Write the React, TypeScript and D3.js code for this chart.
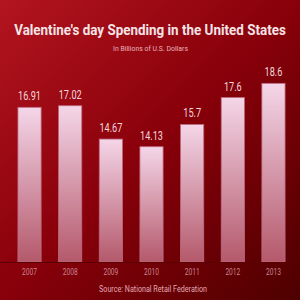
import { useEffect, useRef } from 'react'
import * as d3 from 'd3'

const years = ['2007', '2008', '2009', '2010', '2011', '2012', '2013']
const spending = [16.91, 17.02, 14.67, 14.13, 15.7, 17.6, 18.6]
const valueLabels = ['16.91', '17.02', '14.67', '14.13', '15.7', '17.6', '18.6']

export default function App() {
  const svgRef = useRef<SVGSVGElement>(null)

  useEffect(() => {
    const w = 300
    const h = 300
    const font = "Roboto, 'DejaVu Sans', sans-serif"
    const svg = d3.select(svgRef.current)
      .attr('width', w)
      .attr('height', h)
    svg.selectAll('*').remove()

    // gradients
    const defs = svg.append('defs')
    const bg = defs.append('linearGradient')
      .attr('id', 'bg')
      .attr('x1', 0).attr('y1', 0).attr('x2', 1).attr('y2', 1)
    bg.append('stop').attr('offset', '0%').attr('stop-color', '#b3151f')
    bg.append('stop').attr('offset', '50%').attr('stop-color', '#88000a')
    bg.append('stop').attr('offset', '100%').attr('stop-color', '#4e0000')

    const barGrad = defs.append('linearGradient')
      .attr('id', 'bar')
      .attr('x1', 0).attr('y1', 0).attr('x2', 0).attr('y2', 1)
    barGrad.append('stop').attr('offset', '0%').attr('stop-color', '#f4d6e8')
    barGrad.append('stop').attr('offset', '100%').attr('stop-color', '#b4596b')

    svg.append('rect')
      .attr('width', w)
      .attr('height', h)
      .attr('fill', 'url(#bg)')

    // scaling
    const xScale = d3.scaleBand()
      .domain(years)
      .range([9, 294])
      .paddingInner(0.43)
      .paddingOuter(0.22)

    const yScale = d3.scaleLinear()
      .domain([6, 20])
      .range([262, 63.5])

    // bars
    svg.selectAll('.bar')
      .data(spending)
      .join('rect')
        .attr('class', 'bar')
        .attr('x', (d, i) => xScale(years[i])!)
        .attr('y', d => yScale(d))
        .attr('width', xScale.bandwidth())
        .attr('height', d => yScale(6) - yScale(d))
        .attr('fill', 'url(#bar)')
        .attr('stroke', '#c06a80')
        .attr('stroke-width', 0.8)

    // value labels (condensed look)
    svg.selectAll('.val')
      .data(spending)
      .join('text')
        .attr('class', 'val')
        .attr('transform', (d, i) =>
          `translate(${xScale(years[i])! + xScale.bandwidth() / 2}, ${yScale(d) - 7}) scale(0.76, 1)`)
        .attr('text-anchor', 'middle')
        .attr('font-family', font)
        .attr('font-size', 12)
        .attr('fill', '#f0d6dc')
        .text((d, i) => valueLabels[i])

    // baseline
    svg.append('line')
      .attr('x1', 0).attr('x2', w)
      .attr('y1', 262.5).attr('y2', 262.5)
      .attr('stroke', '#5a0000')
      .attr('stroke-width', 1)

    // x axis
    const xAxis = d3.axisBottom(xScale).tickSize(0).tickPadding(0)
    const gx = svg.append('g')
      .attr('transform', 'translate(0, 272)')
      .call(xAxis)
    gx.select('.domain').remove()
    gx.selectAll('text')
      .attr('y', 0)
      .attr('dy', '0.35em')
      .attr('transform', 'scale(0.78, 1)')
      .attr('font-family', font)
      .attr('font-size', 8.5)
      .attr('fill', '#c98591')
    gx.selectAll('.tick')
      .attr('transform', (d: any) => `translate(${xScale(d)! + xScale.bandwidth() / 2}, 0)`)

    // squeeze a centred text to a target width
    const fitText = (
      x: number, y: number, width: number, size: number,
      fill: string, label: string, weight = 'normal'
    ) => {
      const t = svg.append('text')
        .attr('text-anchor', 'middle')
        .attr('font-family', font)
        .attr('font-weight', weight)
        .attr('font-size', size)
        .attr('fill', fill)
        .text(label)
      const len = (t.node() as SVGTextElement).getComputedTextLength() || width
      t.attr('transform', `translate(${x}, ${y}) scale(${width / len}, 1)`)
    }

    fitText(150, 35, 272, 15, '#f5e4e6', "Valentine's day Spending in the United States", 'bold')
    fitText(150.5, 51, 75, 7.5, '#e8b4bc', 'In Billions of U.S. Dollars')
    fitText(153, 292, 108, 8.5, '#e2aab3', 'Source: National Retail Federation')
  }, [])

  return (
    <div style={{ position: 'absolute', left: 0, top: 0 }}>
      <svg ref={svgRef} style={{ display: 'block' }}></svg>
    </div>
  )
}
